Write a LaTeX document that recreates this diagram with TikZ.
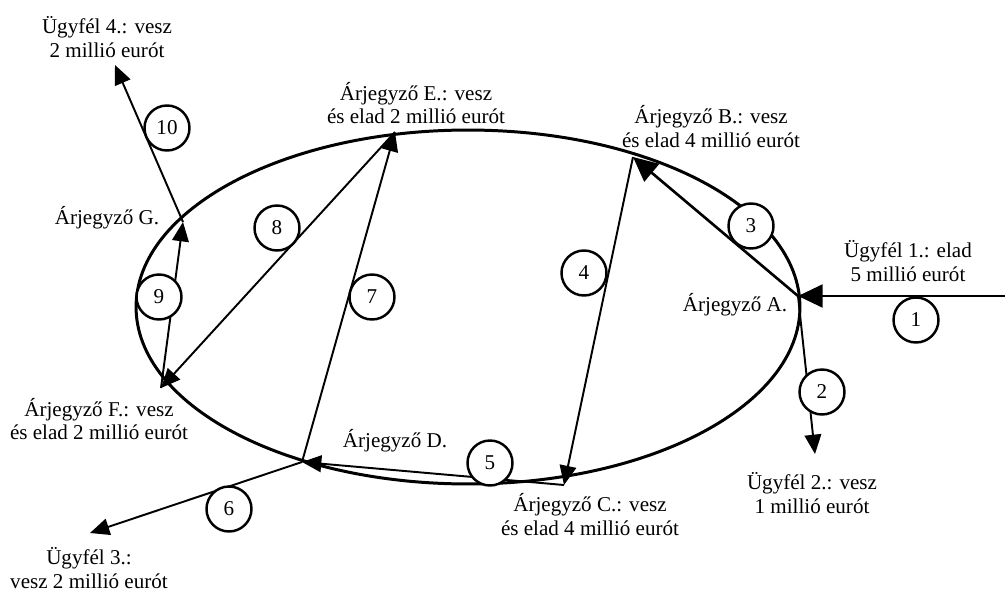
\documentclass[tikz,border=0pt]{standalone}
\usepackage{fontspec}
\setmainfont{Liberation Serif}
\usepackage{tikz}
\usetikzlibrary{
  arrows.meta,
  positioning
}
\tikzset{
  rim/.style={line width=1.7pt,draw=black},
  flow/.style={-{Triangle[length=11pt,width=9.5pt]},line width=1.1pt,draw=black},
  bigflow/.style={-{Triangle[length=14pt,width=13pt]},line width=1.5pt,draw=black},
  stepnum/.style={circle,draw=black,fill=white,line width=1.4pt,minimum size=0.9cm,inner sep=0pt,font=\fontsize{12}{13.6}\selectfont},
  dealer/.style={align=center,inner sep=0pt,font=\fontsize{12}{13.6}\selectfont}
}

\begin{document}
\begin{tikzpicture}[x=0.02cm,y=-0.02cm]
\useasboundingbox (0,0) rectangle (1005,592);

% the market ring
\draw[rim] (468,307) ellipse [x radius=6.64cm, y radius=3.54cm];

% dealer points on the ring
\coordinate (pA) at (798,296);
\coordinate (pB) at (633,157);
\coordinate (pC) at (564,485);
\coordinate (pD) at (302,462);
\coordinate (pE) at (395,132);
\coordinate (pF) at (161,388);
\coordinate (pG) at (183,222);

% clients outside
\coordinate (u1) at (1005,296);
\coordinate (u2) at (815,454);
\coordinate (u3) at (90,533);
\coordinate (u4) at (115,65);

% labels
\node[dealer] (lA) at (735,305) {Árjegyző A.};
\node[dealer] (lB) at (711,126.5) {Árjegyző B.: vesz\\és elad 4 millió eurót};
\node[dealer] (lC) at (590,514.5) {Árjegyző C.: vesz\\és elad 4 millió eurót};
\node[dealer] (lD) at (395,441) {Árjegyző D.};
\node[dealer] (lE) at (416,103) {Árjegyző E.: vesz\\és elad 2 millió eurót};
\node[dealer] (lF) at (99,419) {Árjegyző F.: vesz\\és elad 2 millió eurót};
\node[dealer] (lG) at (107,218) {Árjegyző G.};
\node[dealer] (k1) at (908,261.5) {Ügyfél 1.: elad\\5 millió eurót};
\node[dealer] (k2) at (812,493) {Ügyfél 2.: vesz\\1 millió eurót};
\node[dealer] (k3) at (89,568) {Ügyfél 3.:\\vesz 2 millió eurót};
\node[dealer] (k4) at (107,37.5) {Ügyfél 4.: vesz\\2 millió eurót};

% transfers
\draw[bigflow] (u1) -- (pA);
\draw[flow] (pA) -- (u2);
\draw[bigflow] (pA) -- (pB);
\draw[flow] (pB) -- (pC);
\draw[flow] (pC) -- (pD);
\draw[flow] (pD) -- (u3);
\draw[flow] (pD) -- (pE);
\draw[flow] (pE) -- (pF);
\draw[flow] (pF) -- (pG);
\draw[flow] (pG) -- (u4);

% step numbers
\node[stepnum] (n1) at (916,320) {1};
\node[stepnum] (n2) at (822,392) {2};
\node[stepnum] (n3) at (751,226) {3};
\node[stepnum] (n4) at (584,273) {4};
\node[stepnum] (n5) at (490,463) {5};
\node[stepnum] (n6) at (229,509) {6};
\node[stepnum] (n7) at (372,297) {7};
\node[stepnum] (n8) at (277,228) {8};
\node[stepnum] (n9) at (159,297) {9};
\node[stepnum] (n10) at (167,128) {10};
\end{tikzpicture}
\end{document}
